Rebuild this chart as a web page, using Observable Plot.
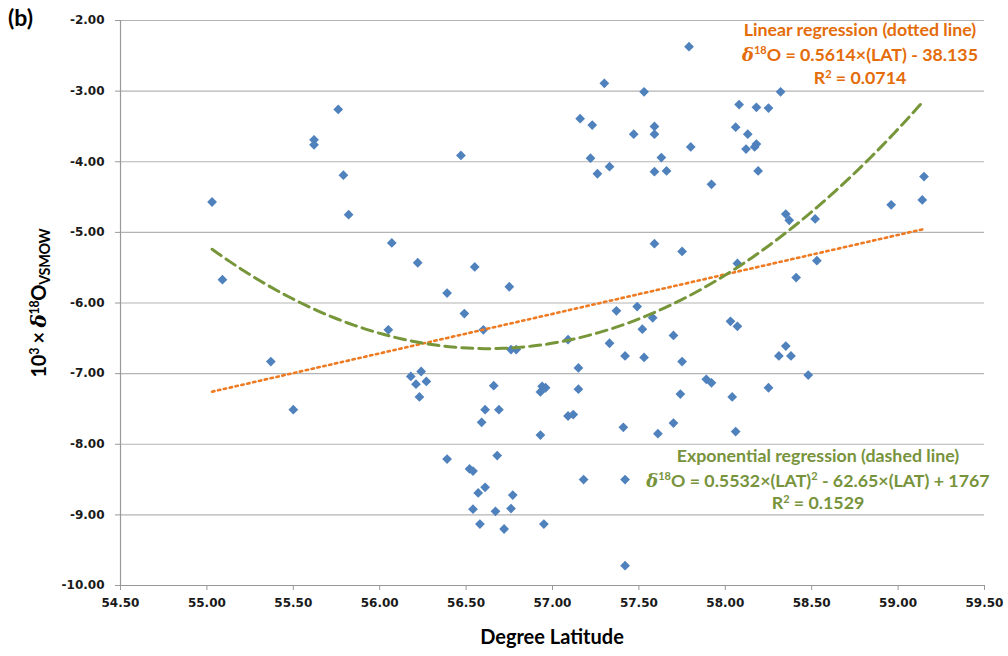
<!DOCTYPE html>
<html><head><meta charset="utf-8">
<script src="https://cdn.jsdelivr.net/npm/d3@7"></script>
<script src="https://cdn.jsdelivr.net/npm/@observablehq/plot@0.6"></script>
<style>
body{margin:0;background:#fff;}
#chart{position:relative;width:1008px;height:656px;}
</style></head><body><div id="chart"></div>
<script>
// ---- data ----
const latitude = [55.03,55.09,55.37,55.50,55.62,55.62,55.76,55.79,55.82,56.05,56.07,56.18,56.21,56.22,56.24,56.23,56.27,56.39,56.39,56.47,
  56.49,56.52,56.54,56.54,56.55,56.57,56.58,56.59,56.60,56.61,56.61,56.66,56.67,56.68,56.69,56.72,56.75,56.76,56.76,56.77,
  56.79,56.93,56.93,56.94,56.96,56.95,57.09,57.09,57.12,57.15,57.15,57.16,57.18,57.22,57.23,57.26,57.30,57.33,57.33,57.37,
  57.41,57.42,57.42,57.42,57.47,57.49,57.52,57.53,57.53,57.58,57.59,57.59,57.59,57.59,57.61,57.63,57.66,57.70,57.70,57.74,
  57.75,57.75,57.79,57.80,57.89,57.92,57.92,58.03,58.04,58.06,58.06,58.07,58.07,58.08,58.12,58.13,58.17,58.18,58.18,58.19,
  58.25,58.25,58.31,58.32,58.35,58.35,58.37,58.38,58.41,58.48,58.52,58.53,58.96,59.14,59.15];
const d18O = [-4.57,-5.67,-6.83,-7.51,-3.69,-3.76,-3.26,-4.19,-4.75,-6.38,-5.15,-7.04,-7.15,-5.43,-6.97,-7.33,-7.11,-5.86,-8.21,-3.91,
  -6.15,-8.35,-8.38,-8.92,-5.49,-8.69,-9.13,-7.69,-6.38,-7.51,-8.61,-7.17,-8.95,-8.16,-7.51,-9.20,-5.77,-6.66,-8.91,-8.72,
  -6.66,-7.87,-7.26,-7.18,-7.20,-9.13,-6.52,-7.60,-7.58,-6.92,-7.22,-3.39,-8.50,-3.95,-3.48,-4.17,-2.89,-4.07,-6.57,-6.11,
  -7.76,-6.75,-8.50,-9.72,-3.61,-6.05,-6.37,-3.01,-6.77,-6.21,-3.50,-3.61,-4.14,-5.16,-7.85,-3.94,-4.13,-6.46,-7.70,-7.29,
  -6.83,-5.27,-2.37,-3.79,-7.08,-7.13,-4.32,-6.26,-7.33,-3.51,-7.82,-6.33,-5.44,-3.19,-3.82,-3.61,-3.79,-3.75,-3.23,-4.13,
  -3.24,-7.20,-6.75,-3.01,-6.61,-4.74,-4.83,-6.75,-5.64,-7.02,-4.81,-5.40,-4.61,-4.54,-4.21];
const yTicks = [-10,-9,-8,-7,-6,-5,-4,-3,-2];
const xTicks = [54.5,55,55.5,56,56.5,57,57.5,58,58.5,59,59.5];
const panelLabel = "(b)";
const xLabel = "Degree Latitude";
const linearLines = [
  [{t:"Linear regression (dotted line)"}],
  [{t:"δ",d:1},{t:"18",sup:1},{t:"O = 0.5614×(LAT) - 38.135"}],
  [{t:"R"},{t:"2",sup:1},{t:" = 0.0714"}]
];
const quadLines = [
  [{t:"Exponential regression (dashed line)"}],
  [{t:"δ",d:1},{t:"18",sup:1},{t:"O = 0.5532×(LAT)"},{t:"2",sup:1},{t:" - 62.65×(LAT) + 1767"}],
  [{t:"R"},{t:"2",sup:1},{t:" = 0.1529"}]
];
const yLabelParts = [{t:"10"},{t:"3",sup:1},{t:" × "},{t:"δ",d:1},{t:"18",sup:1},{t:"O"},{t:"VSMOW",sub:1}];

// ---- build ----
const points = latitude.map((x,i)=>({lat:x, val:d18O[i]}));

// least-squares 2nd order polynomial fit (as the original trendline)
const xm = d3.mean(latitude);
let S = [0,0,0,0,0], T = [0,0,0];
points.forEach(p=>{const u=p.lat-xm; let up=1; for(let k=0;k<5;k++){S[k]+=up; if(k<3) T[k]+=up*p.val; up*=u;}});
const M = [[S[0],S[1],S[2],T[0]],[S[1],S[2],S[3],T[1]],[S[2],S[3],S[4],T[2]]];
for(let i=0;i<3;i++){for(let j=i+1;j<3;j++){const f=M[j][i]/M[i][i]; for(let k=i;k<4;k++) M[j][k]-=f*M[i][k];}}
const coef=[0,0,0];
for(let i=2;i>=0;i--){let s=M[i][3]; for(let k=i+1;k<3;k++) s-=M[i][k]*coef[k]; coef[i]=s/M[i][i];}
const [xmin,xmax] = d3.extent(latitude);
const curve = d3.range(0,121).map(i=>{const x=xmin+(xmax-xmin)*i/120; const u=x-xm; return {lat:x, val:coef[0]+coef[1]*u+coef[2]*u*u};});

const fmt = d => d.toFixed(2);
const svg = Plot.plot({
  width:1008, height:656,
  marginLeft:120, marginRight:24, marginTop:20, marginBottom:71,
  x:{domain:[54.5,59.5]},
  y:{domain:[-10,-2]},
  style:{fontFamily:"DejaVu Sans", background:"#fff", overflow:"visible"},
  marks:[
    Plot.gridY(yTicks.slice(1), {stroke:"#b4b4b4", strokeOpacity:1, strokeWidth:1.2}),
    Plot.ruleX([54.5], {stroke:"#999", strokeWidth:1.2}),
    Plot.ruleY([-10], {stroke:"#999", strokeWidth:1.2}),
    Plot.axisY({ticks:yTicks, tickFormat:fmt, tickSize:5, tickPadding:11, stroke:"#999", fill:"#1a1a1a", fontSize:12, fontWeight:"bold", label:null}),
    Plot.axisX({ticks:xTicks, tickFormat:fmt, tickSize:5, tickPadding:8, stroke:"#999", fill:"#1a1a1a", fontSize:12, fontWeight:"bold", label:null}),
    Plot.dot(points, {x:"lat", y:"val", symbol:"diamond2", r:4.4, fill:"#4F81BD", stroke:"none"}),
    Plot.linearRegressionY(points, {x:"lat", y:"val", ci:0, stroke:"#EE7A22", strokeWidth:2.6, strokeDasharray:"2.4 3.6"}),
    Plot.line(curve, {x:"lat", y:"val", stroke:"#77963A", strokeWidth:3, strokeDasharray:"11 6"})
  ]
});
document.getElementById("chart").appendChild(svg);

function rich(sel, parts, size){
  let shift = 0;
  parts.forEach(p=>{
    const ts = sel.append("tspan").text(p.t);
    const target = p.sup ? -0.36*size : p.sub ? 0.2*size : 0;
    if (target !== shift){ ts.attr("dy", target-shift); shift = target; }
    if (p.sup) ts.attr("font-size", 0.62*size);
    if (p.sub) ts.attr("font-size", 0.72*size);
    if (p.d) ts.attr("font-family","DejaVu Serif").attr("font-style","italic").attr("font-size",1.0*size);
  });
}
const g = d3.select(svg).append("g").attr("text-anchor","start");
g.append("text").attr("x",8).attr("y",26).attr("text-anchor","start").attr("font-family","Lato").attr("font-weight","bold").attr("font-size",23).attr("fill","#000").text(panelLabel);
g.append("text").attr("x",552).attr("y",644).attr("text-anchor","middle").attr("font-family","Lato").attr("font-weight","bold").attr("font-size",20).attr("fill","#000").text(xLabel);
rich(g.append("text").attr("transform","translate(46,303) rotate(-90)").attr("text-anchor","middle").attr("font-family","Lato").attr("font-weight","bold").attr("font-size",20).attr("letter-spacing",-0.3).attr("fill","#000"), yLabelParts, 20);
[35.7,60.7,84].forEach((y,i)=>rich(g.append("text").attr("x",860).attr("y",y).attr("text-anchor","middle").attr("font-family","Lato").attr("font-weight","bold").attr("font-size",17.8).attr("fill","#E46C0A"), linearLines[i], 17.8));
[461.7,486.7,509].forEach((y,i)=>rich(g.append("text").attr("x",818).attr("y",y).attr("text-anchor","middle").attr("font-family","Lato").attr("font-weight","bold").attr("font-size",17.8).attr("fill","#77933C"), quadLines[i], 17.8));
</script></body></html>
